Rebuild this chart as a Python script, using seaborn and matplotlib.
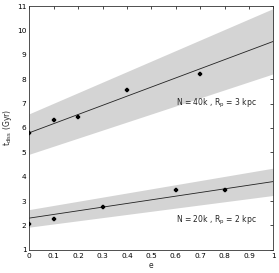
import numpy as np
import pandas as pd
import matplotlib
matplotlib.use("Agg")
import matplotlib.pyplot as plt
import seaborn as sns

# data
e_40k = [0.0, 0.1, 0.2, 0.4, 0.7]
t_40k = [5.8, 6.32, 6.43, 7.55, 8.2]
e_20k = [0.0, 0.1, 0.3, 0.6, 0.8]
t_20k = [2.07, 2.27, 2.75, 3.47, 3.47]

fit_e = [0.0, 1.0]
fit_40k = [5.8, 9.55]
band_40k_hi = [6.58, 10.9]
band_40k_lo = [4.92, 8.22]
fit_20k = [2.3, 3.8]
band_20k_hi = [2.65, 4.35]
band_20k_lo = [1.93, 3.23]

labels = ["N = 40k , R$_\\mathregular{p}$ = 3 kpc", "N = 20k , R$_\\mathregular{p}$ = 2 kpc"]

sns.set_style("white")
plt.rcParams["font.family"] = ["DejaVu Sans"]
plt.rcParams["font.size"] = 5.5

fig, ax = plt.subplots(figsize=(2.79, 2.73), dpi=100)
fig.subplots_adjust(left=0.105, right=0.98, top=0.978, bottom=0.085)

ax.fill_between(fit_e, band_40k_lo, band_40k_hi, color="#d4d4d4", lw=0)
ax.fill_between(fit_e, band_20k_lo, band_20k_hi, color="#d4d4d4", lw=0)

fits = pd.DataFrame({"e": fit_e * 2, "t": fit_40k + fit_20k, "set": ["a", "a", "b", "b"]})
sns.lineplot(data=fits, x="e", y="t", units="set", estimator=None,
             color="#222222", lw=0.6, ax=ax)

pts = pd.DataFrame({"e": e_40k + e_20k, "t": t_40k + t_20k})
sns.scatterplot(data=pts, x="e", y="t", marker="P", s=12, color="black",
                edgecolor="black", linewidth=0.25, ax=ax, zorder=5)

ax.text(0.6, 7.0, labels[0], fontsize=5.5, va="center")
ax.text(0.6, 2.2, labels[1], fontsize=5.5, va="center")

ax.set_xlim(0, 1)
ax.set_ylim(1, 11)
ax.set_xticks(np.arange(0, 1.01, 0.1))
ax.set_xticklabels(["0", "0.1", "0.2", "0.3", "0.4", "0.5", "0.6", "0.7", "0.8", "0.9", "1"])
ax.set_yticks(range(1, 12))
ax.set_xlabel("e", labelpad=2)
ax.set_ylabel("t$_\\mathregular{diss}$ (Gyr)", labelpad=2)
ax.tick_params(direction="in", length=2.5, width=0.5, top=True, right=True, pad=2,
               colors="black", labelsize=5.3)
for s in ax.spines.values():
    s.set_linewidth(0.6)
    s.set_color("#333333")

fig.savefig("out.png", dpi=100)
